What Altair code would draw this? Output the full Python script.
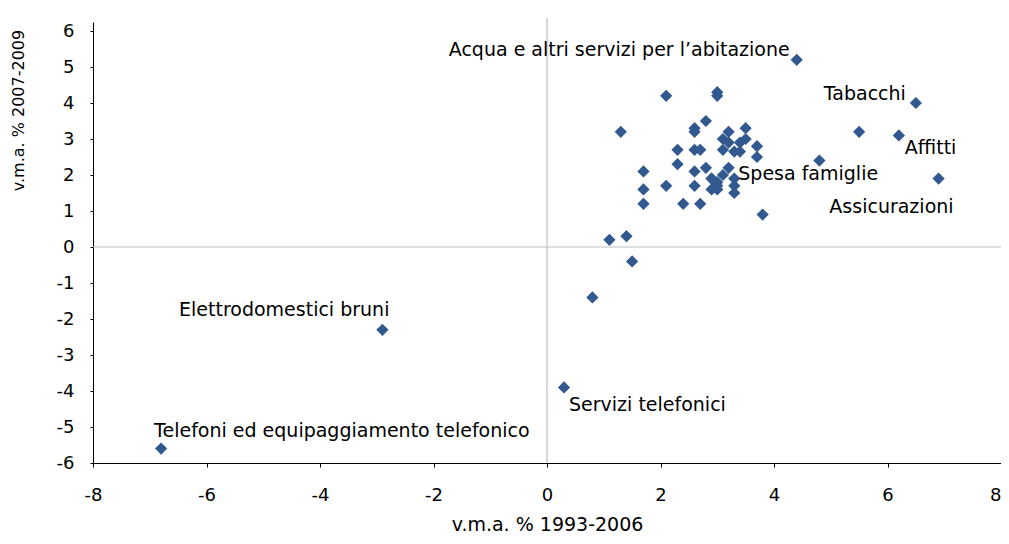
import altair as alt
import pandas as pd

# Labeled categories
lab_names = ["Acqua e altri servizi per l’abitazione", "Tabacchi", "Affitti", "Assicurazioni",
             "Spesa famiglie", "Elettrodomestici bruni",
             "Telefoni ed equipaggiamento telefonico", "Servizi telefonici"]
lab_x = [4.4, 6.5, 6.2, 6.9, 3.3, -2.9, -6.8, 0.3]
lab_y = [5.2, 4.0, 3.1, 1.9, 1.9, -2.3, -5.6, -3.9]

# Unlabeled categories
pts_x = [5.5, 4.8, 3.8, 0.8, 1.5, 1.1, 1.4,
         2.1, 3.0, 3.0, 1.3, 2.8, 2.6, 2.6, 3.2, 3.5, 3.1, 3.2, 3.4, 3.5,
         3.1, 3.3, 3.4, 3.7, 3.7, 2.6, 2.7, 2.3, 2.3, 1.7, 2.6, 2.8, 3.2,
         3.1, 2.9, 2.9, 3.0, 3.0, 2.9, 3.0, 3.3, 3.3, 1.7, 2.1, 2.6, 1.7,
         2.4, 2.7]
pts_y = [3.2, 2.4, 0.9, -1.4, -0.4, 0.2, 0.3,
         4.2, 4.3, 4.2, 3.2, 3.5, 3.3, 3.2, 3.2, 3.3, 3.0, 2.9, 2.9, 3.0,
         2.7, 2.65, 2.65, 2.8, 2.5, 2.7, 2.7, 2.7, 2.3, 2.1, 2.1, 2.2, 2.2,
         2.0, 1.9, 1.9, 1.8, 1.7, 1.6, 1.6, 1.7, 1.5, 1.6, 1.7, 1.7, 1.2,
         1.2, 1.2]

x_ticks = [-8, -6, -4, -2, 0, 2, 4, 6, 8]
y_ticks = [-6, -5, -4, -3, -2, -1, 0, 1, 2, 3, 4, 5, 6]

labeled = pd.DataFrame({"x": lab_x, "y": lab_y, "label": lab_names})
others = pd.DataFrame({"x": pts_x, "y": pts_y, "label": [""] * len(pts_x)})
alldf = pd.concat([labeled, others], ignore_index=True)

FONT = "DejaVu Sans"
BLUE = "#31598F"
LABEL_EXPR = "datum.value < 0 ? '-' + abs(datum.value) : '' + datum.value"
W, H = 908, 441

xscale = alt.Scale(domain=[-8, 8], nice=False)
yscale = alt.Scale(domain=[-6, 6.25], nice=False)

xaxis = alt.Axis(values=x_ticks, title="v.m.a. % 1993-2006", grid=False,
                 labelExpr=LABEL_EXPR, labelOverlap=False, labelFlush=False,
                 labelAlign={"expr": "datum.value == 8 ? 'right' : 'center'"},
                 domainColor="black", tickColor="black", tickSize=4,
                 labelFont=FONT, labelFontSize=18, labelColor="black", labelPadding=19,
                 titleFont=FONT, titleFontSize=19, titleFontWeight="normal",
                 titleColor="black", titlePadding=11)
yaxis = alt.Axis(values=y_ticks, title="v.m.a. % 2007-2009", grid=False,
                 labelExpr=LABEL_EXPR, labelOverlap=False,
                 domainColor="black", tickColor="black", tickSize=3,
                 labelFont=FONT, labelFontSize=18, labelColor="black", labelPadding=16,
                 titleFont=FONT, titleFontSize=16, titleFontWeight="normal",
                 titleColor="black", titleX=-75, titleY=88,
                 titleAlign="center", titleBaseline="middle", titleAngle=-90)

X = alt.X("x:Q", scale=xscale, axis=xaxis)
Y = alt.Y("y:Q", scale=yscale, axis=yaxis)

pts = alt.Chart(alldf).mark_point(shape="diamond", filled=True, size=150, color=BLUE,
                                  opacity=1).encode(x=X, y=Y)

zero_v = alt.Chart(pd.DataFrame({"x": [0]})).mark_rule(color="#BFBFBF", strokeWidth=1.2).encode(
    x=X, y=alt.value(-4), y2=alt.value(H))
zero_h = alt.Chart(pd.DataFrame({"y": [0]})).mark_rule(color="#BFBFBF", strokeWidth=1.2).encode(
    y=Y, x=alt.value(0), x2=alt.value(W))

offsets = {
    "Acqua e altri servizi per l’abitazione": ("right", -7, -10),
    "Tabacchi": ("right", -10, -9),
    "Affitti": ("left", 6, 13),
    "Assicurazioni": ("right", 15, 28),
    "Spesa famiglie": ("left", 4, -5),
    "Elettrodomestici bruni": ("right", 7, -20),
    "Telefoni ed equipaggiamento telefonico": ("left", -7, -18),
    "Servizi telefonici": ("left", 5, 18),
}

texts = []
for name, (al, dx, dy) in offsets.items():
    t = alt.Chart(labeled).transform_filter(alt.datum.label == name).mark_text(
        align=al, baseline="middle", dx=dx, dy=dy, font=FONT, fontSize=19, color="black"
    ).encode(x=X, y=Y, text="label:N")
    texts.append(t)

chart = alt.layer(zero_v, zero_h, pts, *texts).properties(
    width=W, height=H,
    autosize=alt.AutoSizeParams(type="none"),
    padding={"left": 85, "top": 14, "right": 0, "bottom": 73},
    background="white",
).configure_view(stroke=None)

chart.save("out.html", embed_options={"renderer": "svg", "actions": False})
